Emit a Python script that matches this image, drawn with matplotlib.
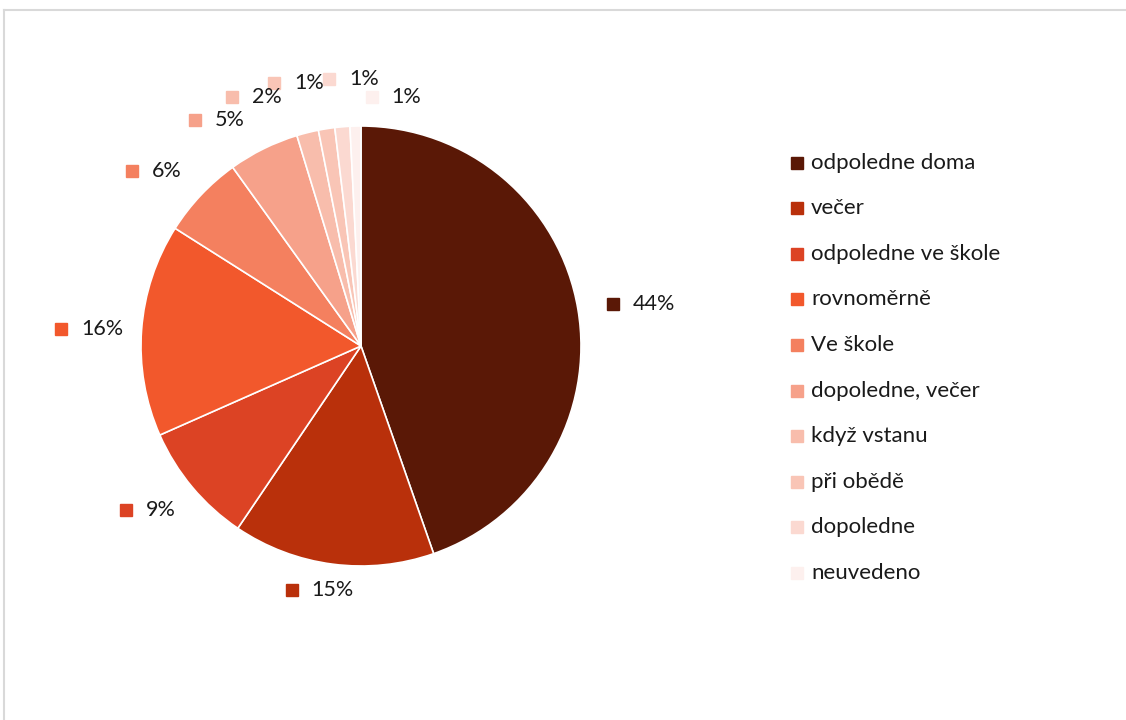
import matplotlib.pyplot as plt
import numpy as np
from matplotlib.lines import Line2D

plt.rcParams['font.family'] = ['Lato', 'DejaVu Sans']

categories = ['odpoledne doma', 'večer', 'odpoledne ve škole', 'rovnoměrně',
              'Ve škole', 'dopoledne, večer', 'když vstanu', 'při obědě',
              'dopoledne', 'neuvedeno']
shares = [44.6, 14.8, 8.9, 15.6, 6.1, 5.2, 1.6, 1.2, 1.1, 0.8]
pct_labels = ['44%', '15%', '9%', '16%', '6%', '5%', '2%', '1%', '1%', '1%']
colors = ['#5a1806', '#b9300b', '#dc4324', '#f2582c', '#f4805f',
          '#f6a18a', '#f8bdac', '#f9c5b6', '#fbd9d1', '#fdf0ee']

# label nudges (data units) for crowded labels
nudges = [(0.05, -0.018), (-0.03, 0.12), (0.01, 0.05), (0.0, -0.014), (-0.014, -0.055),
          (-0.08, -0.085), (-0.16, -0.07), (-0.075, -0.03), (0.085, -0.02), (0.205, -0.11)]

W, H = 1126, 720
cx, cy, R = 361, 346, 220

fig = plt.figure(figsize=(W / 100, H / 100), dpi=100)
ax = fig.add_axes([0, 0, 1, 1])

ax.pie(shares, colors=colors, startangle=90, counterclock=False,
       radius=1, center=(0, 0), frame=True,
       wedgeprops=dict(edgecolor='white', linewidth=1.2))
ax.set_xlim(-cx / R, (W - cx) / R)
ax.set_ylim(-(H - cy) / R, cy / R)
ax.set_aspect('auto')
ax.axis('off')

total = sum(shares)
cum = np.cumsum([0] + shares)
for i in range(len(shares)):
    mid = (cum[i] + cum[i + 1]) / 2 / total * 2 * np.pi
    x = 1.24 * np.sin(mid) + nudges[i][0]
    y = 1.24 * np.cos(mid) + nudges[i][1]
    ax.plot(x - 0.125, y, marker='s', ms=8, color=colors[i], ls='')
    ax.text(x - 0.035, y, pct_labels[i], ha='left', va='center', fontsize=15.5, color='#1a1a1a')

# legend
for i, name in enumerate(categories):
    ly = 0.774 - i * 0.0633
    ax.plot(797 / W, ly, marker='s', ms=8, color=colors[i], ls='', transform=fig.transFigure)
    ax.text(811 / W, ly, name, ha='left', va='center', fontsize=16, color='#1a1a1a',
            transform=fig.transFigure)

# chart border
fig.add_artist(Line2D([4 / W, 1], [1 - 10 / H, 1 - 10 / H], color='#d9d9d9', lw=1.5))
fig.add_artist(Line2D([4 / W, 4 / W], [0, 1 - 10 / H], color='#d9d9d9', lw=1.5))

fig.savefig('out.png', dpi=100)
